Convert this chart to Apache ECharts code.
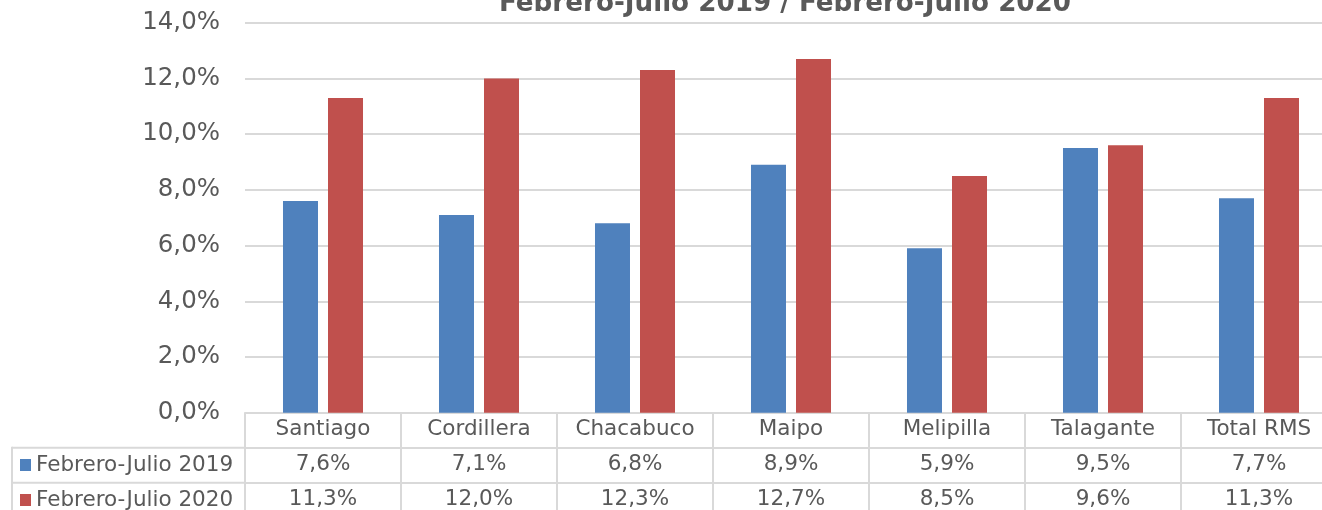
<!DOCTYPE html>
<html lang="es">

<head>
    <meta charset="UTF-8">
    <title>Febrero-Julio 2019 / Febrero-Julio 2020</title>
    <script src="https://cdn.jsdelivr.net/npm/echarts@6/dist/echarts.min.js"></script>
    <style>
        html, body { margin: 0; padding: 0; background: #fff; }
        #chart { width: 1322px; height: 510px; }
    </style>
</head>

<body>
    <div id="chart"></div>
    <script>
        var comunas = ['Santiago', 'Cordillera', 'Chacabuco', 'Maipo', 'Melipilla', 'Talagante', 'Total RMS'];
        var serie2019 = [7.6, 7.1, 6.8, 8.9, 5.9, 9.5, 7.7];
        var serie2020 = [11.3, 12.0, 12.3, 12.7, 8.5, 9.6, 11.3];
        var nombres = ['Febrero-Julio 2019', 'Febrero-Julio 2020'];
        var titulo = 'Febrero-Julio 2019 / Febrero-Julio 2020';

        var gris = '#595959';
        var linea = '#d9d9d9';
        var fuente = 'DejaVu Sans';

        function pct(v) {
            return v.toFixed(1).replace('.', ',') + '%';
        }

        // eje extra para cada fila de la tabla de datos
        function filaTabla(valores, offset) {
            return {
                type: 'category',
                data: comunas,
                gridIndex: 0,
                position: 'bottom',
                offset: offset,
                axisLine: { show: true, lineStyle: { color: linea, width: 2 } },
                axisTick: { show: false },
                axisLabel: {
                    interval: 0,
                    margin: 17,
                    verticalAlign: 'middle',
                    color: gris,
                    fontSize: 21.5,
                    fontFamily: fuente,
                    formatter: function (v, i) { return pct(valores[i]); }
                }
            };
        }

        var chart = echarts.init(document.getElementById('chart'));
        chart.setOption({
            backgroundColor: '#fff',
            animation: false,
            color: ['#4f81bd', '#c0504d'],
            title: {
                text: titulo,
                left: 785,
                top: -9,
                padding: 0,
                textAlign: 'center',
                textStyle: { color: gris, fontSize: 26.2, fontWeight: 'bold', fontFamily: fuente }
            },
            legend: {
                data: nombres,
                orient: 'vertical',
                left: 20,
                top: 453,
                height: 80,
                padding: 0,
                icon: 'rect',
                itemWidth: 11,
                itemHeight: 12,
                itemGap: 11,
                textStyle: { color: gris, fontSize: 21.5, lineHeight: 24, fontFamily: fuente }
            },
            grid: { left: 245, top: 22.7, width: 1092, height: 390, outerBoundsMode: 'none', containLabel: false },
            xAxis: [{
                    type: 'category',
                    data: comunas,
                    axisLine: { show: true, lineStyle: { color: linea, width: 2 } },
                    axisTick: { show: true, interval: 0, length: 100, lineStyle: { color: linea, width: 2 } },
                    axisLabel: {
                        interval: 0,
                        margin: 17,
                        verticalAlign: 'middle',
                        color: gris,
                        fontSize: 21.5,
                        fontFamily: fuente
                    }
                },
                filaTabla(serie2019, 35),
                filaTabla(serie2020, 70)
            ],
            yAxis: {
                type: 'value',
                min: 0,
                max: 14,
                interval: 2,
                axisLine: { show: false },
                axisTick: { show: false },
                splitLine: { lineStyle: { color: linea, width: 2 } },
                axisLabel: {
                    margin: 25,
                    color: gris,
                    fontSize: 24.5,
                    fontFamily: fuente,
                    formatter: function (v) { return pct(v); }
                }
            },
            // bordes de la columna de leyenda
            graphic: [
                { type: 'line', shape: { x1: 12, y1: 447.7, x2: 245, y2: 447.7 }, style: { stroke: linea, lineWidth: 2 } },
                { type: 'line', shape: { x1: 12, y1: 482.7, x2: 245, y2: 482.7 }, style: { stroke: linea, lineWidth: 2 } },
                { type: 'line', shape: { x1: 12, y1: 446.7, x2: 12, y2: 512 }, style: { stroke: linea, lineWidth: 2 } }
            ],
            series: [{
                name: nombres[0],
                type: 'bar',
                data: serie2019,
                barWidth: 35,
                barGap: '28.6%'
            }, {
                name: nombres[1],
                type: 'bar',
                data: serie2020,
                barWidth: 35,
                barGap: '28.6%'
            }]
        });
    </script>
</body>

</html>
